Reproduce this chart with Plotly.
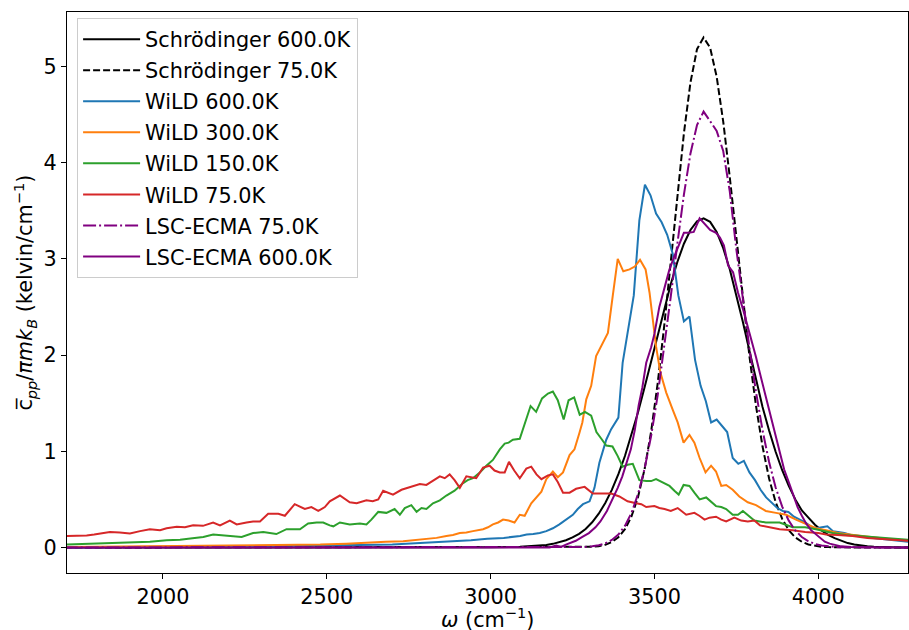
import plotly.graph_objects as go

# ---------------- data ----------------
# smooth-curve sampling grid (cm^-1)
omega_smooth = [1700, 2800, 3000,
                3090, 3110, 3130, 3150, 3170, 3190, 3210, 3230, 3250, 3270,
                3290, 3310, 3330, 3350, 3370, 3390, 3410, 3430, 3450, 3470,
                3490, 3510, 3530, 3550, 3570, 3590, 3610, 3630, 3650, 3670,
                3690, 3710, 3730, 3750, 3770, 3790, 3810, 3830, 3850, 3870,
                3890, 3910, 3930, 3950, 3970, 3990, 4010, 4030, 4050, 4070,
                4090, 4110, 4130, 4150, 4170, 4190, 4210, 4230, 4250, 4270, 4290]

schrod_600 = [0.0, 0.0, 0.002,
              0.008, 0.011, 0.015, 0.020, 0.027, 0.038, 0.055, 0.075, 0.105, 0.142,
              0.192, 0.262, 0.351, 0.463, 0.599, 0.762, 0.951, 1.166, 1.406, 1.665,
              1.936, 2.212, 2.483, 2.739, 2.967, 3.157, 3.300, 3.390, 3.420, 3.384,
              3.279, 3.111, 2.891, 2.631, 2.343, 2.044, 1.746, 1.461, 1.215, 0.995,
              0.803, 0.640, 0.500, 0.385, 0.310, 0.236, 0.178, 0.132, 0.098, 0.068,
              0.046, 0.031, 0.020, 0.013, 0.008, 0.005, 0.003, 0.002, 0.001, 0.001, 0.0]

schrod_75 = [0.0, 0.0, 0.0,
             0.0, 0.0, 0.0, 0.0, 0.0, 0.0, 0.0, 0.0, 0.0, 0.0,
             0.003, 0.007, 0.014, 0.029, 0.057, 0.106, 0.190, 0.323, 0.525, 0.815,
             1.206, 1.707, 2.305, 2.973, 3.661, 4.305, 4.832, 5.179, 5.300, 5.195,
             4.892, 4.427, 3.849, 3.215, 2.580, 1.989, 1.473, 1.049, 0.717, 0.471,
             0.297, 0.180, 0.105, 0.059, 0.032, 0.016, 0.008, 0.004, 0.002, 0.0,
             0.0, 0.0, 0.0, 0.0, 0.0, 0.0, 0.0, 0.0, 0.0, 0.0, 0.0]

lsc_75 = [0.0, 0.0, 0.0,
          0.0, 0.0, 0.0, 0.0, 0.0, 0.0, 0.003, 0.0, 0.002, 0.0,
          0.006, 0.012, 0.023, 0.043, 0.078, 0.135, 0.225, 0.360, 0.555, 0.819,
          1.161, 1.583, 2.074, 2.611, 3.157, 3.668, 4.095, 4.390, 4.530, 4.430,
          4.330, 4.120, 3.700, 3.100, 2.560, 2.074, 1.617, 1.219, 0.888, 0.624,
          0.425, 0.279, 0.177, 0.109, 0.065, 0.037, 0.020, 0.011, 0.006, 0.003,
          0.001, 0.0, 0.0, 0.0, 0.0, 0.0, 0.0, 0.0, 0.0, 0.0, 0.0]

omega_lsc_600 = [1700, 2500, 3000, 3100, 3150, 3180, 3200, 3215, 3230, 3245, 3260,
                 3280, 3300, 3320, 3335, 3355, 3372, 3388, 3402, 3415, 3428, 3440,
                 3452, 3463, 3475, 3490, 3500, 3515, 3530, 3545, 3560, 3575, 3590,
                 3605, 3620, 3638, 3655, 3670, 3688, 3700, 3712, 3725, 3740, 3755,
                 3770, 3783, 3797, 3810, 3822, 3836, 3851, 3866, 3882, 3896, 3910,
                 3923, 3937, 3950, 3963, 3978, 3991, 4004, 4020, 4035, 4050, 4070,
                 4100, 4150, 4200, 4290]
lsc_600 = [0.0, 0.0, 0.0, 0.002, 0.005, 0.0, 0.02, 0.005, 0.03, 0.05, 0.07,
           0.11, 0.15, 0.21, 0.27, 0.38, 0.50, 0.62, 0.74, 0.87, 1.02, 1.22,
           1.48, 1.66, 1.92, 2.08, 2.22, 2.50, 2.70, 2.88, 3.02, 3.14, 3.27,
           3.27, 3.28, 3.42, 3.36, 3.30, 3.27, 3.22, 3.14, 2.93, 2.86, 2.65,
           2.48, 2.32, 2.12, 1.98, 1.81, 1.62, 1.40, 1.20, 0.99, 0.81, 0.68,
           0.55, 0.42, 0.33, 0.25, 0.18, 0.14, 0.10, 0.06, 0.04, 0.025, 0.012,
           0.006, 0.002, 0.0, 0.0]

omega_wild_600 = [1700, 1900, 2100, 2300, 2480, 2600, 2700, 2780, 2850, 2900, 2940,
                  2990, 3040, 3090, 3110, 3130, 3150, 3170, 3190, 3210, 3231, 3251,
                  3266, 3282, 3302, 3317, 3332, 3353, 3368, 3390, 3403, 3420, 3437,
                  3454, 3471, 3488, 3505, 3522, 3539, 3556, 3573, 3590, 3607, 3624,
                  3641, 3657, 3673, 3690, 3706, 3722, 3739, 3756, 3773, 3790, 3807,
                  3824, 3841, 3858, 3875, 3892, 3909, 3926, 3943, 3960, 3977, 3994,
                  4011, 4028, 4045, 4062, 4080, 4100, 4130, 4160, 4200, 4250, 4290]
wild_600 = [0.0, 0.005, 0.008, 0.01, 0.015, 0.025, 0.03, 0.045, 0.06, 0.065, 0.075,
            0.09, 0.10, 0.12, 0.135, 0.14, 0.15, 0.17, 0.20, 0.24, 0.29, 0.34,
            0.40, 0.45, 0.48, 0.62, 0.88, 1.12, 1.23, 1.35, 1.92, 2.27, 2.62,
            3.40, 3.77, 3.66, 3.47, 3.38, 3.25, 3.05, 2.62, 2.35, 2.40, 1.95,
            1.68, 1.52, 1.30, 1.33, 1.27, 1.20, 0.93, 0.87, 0.90, 0.78, 0.70,
            0.60, 0.52, 0.46, 0.41, 0.38, 0.37, 0.32, 0.29, 0.26, 0.22, 0.20,
            0.21, 0.22, 0.17, 0.16, 0.15, 0.13, 0.12, 0.10, 0.085, 0.065, 0.055]

omega_wild_300 = [1700, 1800, 1900, 2000, 2100, 2200, 2300, 2400, 2480, 2560, 2630,
                  2680, 2733, 2784, 2810, 2835, 2865, 2885, 2906, 2926, 2946, 2962,
                  2977, 2992, 3007, 3023, 3038, 3055, 3073, 3089, 3104, 3124, 3140,
                  3155, 3170, 3190, 3205, 3221, 3241, 3256, 3271, 3280, 3292, 3307,
                  3322, 3338, 3358, 3373, 3388, 3405, 3424, 3440, 3456, 3473, 3485,
                  3495, 3505, 3518, 3536, 3556, 3571, 3589, 3607, 3622, 3638, 3656,
                  3673, 3688, 3704, 3719, 3739, 3759, 3785, 3810, 3840, 3871, 3902,
                  3932, 3963, 3993, 4024, 4060, 4095, 4135, 4176, 4220, 4268, 4290]
wild_300 = [0.005, 0.008, 0.01, 0.012, 0.015, 0.018, 0.02, 0.025, 0.03, 0.04, 0.055,
            0.06, 0.065, 0.08, 0.09, 0.10, 0.12, 0.13, 0.15, 0.155, 0.17, 0.18,
            0.19, 0.21, 0.24, 0.26, 0.29, 0.28, 0.26, 0.34, 0.33, 0.46, 0.52,
            0.58, 0.71, 0.79, 0.73, 0.78, 0.96, 1.02, 1.19, 1.30, 1.54, 1.68,
            1.99, 2.09, 2.23, 2.62, 3.00, 2.87, 2.89, 2.92, 2.99, 2.89, 2.65,
            2.37, 2.09, 1.82, 1.61, 1.43, 1.30, 1.09, 1.17, 1.09, 0.93, 0.78,
            0.85, 0.79, 0.64, 0.65, 0.60, 0.53, 0.47, 0.44, 0.38, 0.36, 0.34,
            0.29, 0.24, 0.20, 0.18, 0.15, 0.135, 0.12, 0.10, 0.085, 0.076, 0.07]

omega_wild_150 = [1700, 1740, 1787, 1838, 1889, 1925, 1960, 2011, 2052, 2090, 2123,
                  2153, 2194, 2240, 2275, 2306, 2346, 2377, 2418, 2443, 2469, 2489,
                  2509, 2520, 2540, 2570, 2601, 2621, 2636, 2657, 2682, 2707, 2723,
                  2738, 2758, 2774, 2789, 2804, 2824, 2845, 2865, 2890, 2916, 2930,
                  2946, 2967, 2987, 3007, 3028, 3043, 3055, 3068, 3089, 3104, 3122,
                  3139, 3157, 3175, 3190, 3205, 3223, 3238, 3255, 3272, 3288, 3307,
                  3323, 3338, 3353, 3372, 3388, 3403, 3418, 3434, 3454, 3475, 3490,
                  3505, 3531, 3546, 3561, 3574, 3589, 3607, 3622, 3638, 3658, 3673,
                  3688, 3704, 3719, 3739, 3755, 3770, 3788, 3805, 3840, 3882, 3922,
                  3960, 3993, 4044, 4085, 4125, 4170, 4207, 4250, 4290]
wild_150 = [0.03, 0.035, 0.04, 0.04, 0.05, 0.055, 0.06, 0.076, 0.08, 0.095, 0.11,
            0.135, 0.125, 0.11, 0.15, 0.16, 0.14, 0.19, 0.19, 0.25, 0.26, 0.26,
            0.23, 0.22, 0.26, 0.24, 0.25, 0.24, 0.29, 0.37, 0.36, 0.40, 0.34,
            0.41, 0.44, 0.37, 0.41, 0.40, 0.46, 0.49, 0.54, 0.59, 0.67, 0.70,
            0.72, 0.78, 0.85, 0.91, 1.02, 1.08, 1.09, 1.12, 1.13, 1.28, 1.47,
            1.41, 1.55, 1.60, 1.62, 1.53, 1.33, 1.53, 1.56, 1.38, 1.41, 1.37,
            1.20, 1.13, 1.06, 1.05, 0.95, 0.84, 0.86, 0.87, 0.70, 0.69, 0.69,
            0.71, 0.67, 0.64, 0.59, 0.55, 0.65, 0.64, 0.57, 0.50, 0.52, 0.47,
            0.43, 0.42, 0.40, 0.34, 0.34, 0.38, 0.33, 0.28, 0.26, 0.26, 0.21,
            0.21, 0.19, 0.15, 0.13, 0.12, 0.11, 0.10, 0.085, 0.075]

omega_wild_75 = [1700, 1740, 1767, 1790, 1818, 1838, 1868, 1899, 1930, 1960, 1991,
                 2011, 2042, 2067, 2092, 2122, 2153, 2174, 2204, 2225, 2255, 2275,
                 2296, 2321, 2352, 2372, 2402, 2433, 2453, 2474, 2494, 2509, 2540,
                 2570, 2591, 2621, 2640, 2657, 2672, 2702, 2728, 2745, 2763, 2784,
                 2804, 2824, 2845, 2860, 2875, 2890, 2906, 2926, 2956, 2977, 2997,
                 3012, 3028, 3043, 3056, 3072, 3089, 3109, 3124, 3140, 3155, 3175,
                 3190, 3205, 3221, 3241, 3261, 3287, 3300, 3312, 3343, 3368, 3393,
                 3418, 3444, 3460, 3475, 3500, 3515, 3531, 3550, 3571, 3597, 3622,
                 3637, 3653, 3668, 3688, 3704, 3719, 3744, 3765, 3785, 3805, 3822,
                 3840, 3860, 3882, 3922, 3960, 4000, 4024, 4060, 4105, 4150, 4187,
                 4230, 4290]
wild_75 = [0.12, 0.12, 0.125, 0.135, 0.15, 0.16, 0.155, 0.145, 0.17, 0.19, 0.18,
           0.20, 0.215, 0.21, 0.23, 0.225, 0.26, 0.23, 0.28, 0.24, 0.26, 0.27,
           0.27, 0.35, 0.35, 0.33, 0.45, 0.40, 0.42, 0.38, 0.42, 0.48, 0.54,
           0.47, 0.46, 0.49, 0.48, 0.50, 0.59, 0.55, 0.60, 0.62, 0.64, 0.66,
           0.65, 0.69, 0.74, 0.72, 0.76, 0.70, 0.62, 0.74, 0.72, 0.83, 0.85,
           0.80, 0.78, 0.78, 0.89, 0.80, 0.72, 0.82, 0.84, 0.76, 0.71, 0.75,
           0.76, 0.68, 0.57, 0.57, 0.61, 0.63, 0.59, 0.56, 0.56, 0.56, 0.53,
           0.48, 0.46, 0.45, 0.42, 0.43, 0.41, 0.40, 0.38, 0.41, 0.34, 0.36,
           0.33, 0.29, 0.31, 0.32, 0.29, 0.27, 0.31, 0.28, 0.27, 0.28, 0.23,
           0.22, 0.21, 0.19, 0.18, 0.16, 0.15, 0.135, 0.13, 0.12, 0.10, 0.09,
           0.08, 0.065]

x_ticks = [2000, 2500, 3000, 3500, 4000]
y_ticks = [0, 1, 2, 3, 4, 5]
x_title = "<i>ω</i> (cm<sup>−1</sup>)"
y_title = "c̅<sub><i>pp</i></sub>/<i>πmk</i><sub><i>B</i></sub> (kelvin/cm<sup>−1</sup>)"

# ---------------- figure ----------------
FONT = "DejaVu Sans"
FS = 20.8

series = [
    ("Schrödinger 600.0K", omega_smooth, schrod_600, "black", "solid"),
    ("Schrödinger 75.0K", omega_smooth, schrod_75, "black", "7px,3px"),
    ("WiLD 600.0K", omega_wild_600, wild_600, "#1f77b4", "solid"),
    ("WiLD 300.0K", omega_wild_300, wild_300, "#ff7f0e", "solid"),
    ("WiLD 150.0K", omega_wild_150, wild_150, "#2ca02c", "solid"),
    ("WiLD 75.0K", omega_wild_75, wild_75, "#d62728", "solid"),
    ("LSC-ECMA 75.0K", omega_smooth, lsc_75, "purple", "13px,3px,2px,3px"),
    ("LSC-ECMA 600.0K", omega_lsc_600, lsc_600, "purple", "solid"),
]

fig = go.Figure()
for i, (name, xs, ys, color, dash) in enumerate(series):
    fig.add_trace(go.Scatter(
        x=xs, y=ys, mode="lines", name=name, legendgroup=f"g{i}",
        line=dict(color=color, width=2, dash=dash),
    ))

axis_common = dict(
    showline=True, linecolor="black", linewidth=1, mirror=True,
    ticks="outside", ticklen=5, tickwidth=1, tickcolor="black",
    showgrid=False, zeroline=False, automargin=False,
    tickfont=dict(family=FONT, size=FS, color="black"),
)

fig.update_layout(
    width=909, height=630,
    margin=dict(l=67, r=1, t=12, b=57),
    paper_bgcolor="white", plot_bgcolor="white",
    font=dict(family=FONT, size=FS, color="black"),
    xaxis=dict(range=[1707, 4274], tickvals=x_ticks, **axis_common),
    yaxis=dict(range=[-0.265, 5.565], tickvals=y_ticks, **axis_common),
    legend=dict(
        x=0.012, y=0.989, xanchor="left", yanchor="top",
        bgcolor="rgba(255,255,255,0.8)", bordercolor="#cccccc", borderwidth=1,
        font=dict(family=FONT, size=FS, color="black"),
        tracegroupgap=1, traceorder="grouped", itemwidth=57,
    ),
    showlegend=True,
)

# axis titles placed as paper-anchored text
fig.add_annotation(text=x_title, xref="paper", yref="paper", x=0.5, y=-0.0795,
                   xanchor="center", yanchor="middle", showarrow=False,
                   font=dict(family=FONT, size=FS, color="black"))
fig.add_annotation(text=y_title, xref="paper", yref="paper", x=-0.051, y=0.5,
                   xanchor="center", yanchor="middle", textangle=-90, showarrow=False,
                   font=dict(family=FONT, size=FS, color="black"))

fig.write_html("out.html")
